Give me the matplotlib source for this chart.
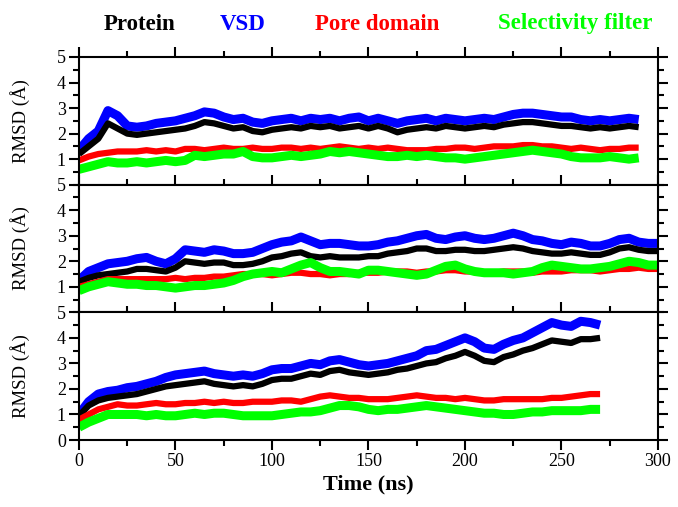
import numpy as np
import matplotlib
matplotlib.use('Agg')
from matplotlib import pyplot as plt
from matplotlib.ticker import MultipleLocator

# -------DATA (RMSD in Angstrom, sampled every 5 ns)
t_top = np.arange(0, 295, 5)
t_mid = np.arange(0, 305, 5)
t_bot = np.arange(0, 275, 5)

protein_top = [1.2, 1.5, 1.8, 2.4, 2.2, 2.0, 1.95, 2.0, 2.05, 2.1, 2.15, 2.2, 2.3, 2.45, 2.4, 2.3, 2.2, 2.25, 2.1, 2.05,
               2.15, 2.2, 2.25, 2.2, 2.3, 2.25, 2.3, 2.2, 2.25, 2.3, 2.2, 2.3, 2.2, 2.05, 2.15, 2.2, 2.25, 2.2, 2.3, 2.25,
               2.2, 2.25, 2.3, 2.25, 2.35, 2.4, 2.45, 2.45, 2.4, 2.35, 2.3, 2.3, 2.25, 2.2, 2.25, 2.2, 2.25, 2.3, 2.25]
vsd_top = [1.35, 1.8, 2.1, 2.9, 2.7, 2.3, 2.25, 2.3, 2.4, 2.45, 2.5, 2.6, 2.7, 2.85, 2.8, 2.65, 2.55, 2.6, 2.45, 2.4,
           2.5, 2.55, 2.6, 2.5, 2.6, 2.55, 2.6, 2.5, 2.6, 2.65, 2.5, 2.6, 2.5, 2.4, 2.5, 2.55, 2.6, 2.5, 2.6, 2.55,
           2.5, 2.55, 2.6, 2.55, 2.65, 2.75, 2.8, 2.8, 2.75, 2.7, 2.65, 2.65, 2.55, 2.5, 2.55, 2.5, 2.55, 2.6, 2.55]
pore_top = [0.95, 1.1, 1.2, 1.25, 1.3, 1.3, 1.3, 1.35, 1.3, 1.35, 1.3, 1.4, 1.4, 1.35, 1.4, 1.45, 1.4, 1.4, 1.45, 1.4,
            1.4, 1.45, 1.45, 1.4, 1.45, 1.4, 1.45, 1.5, 1.45, 1.4, 1.45, 1.4, 1.45, 1.4, 1.35, 1.35, 1.35, 1.4, 1.4, 1.45,
            1.45, 1.4, 1.45, 1.5, 1.5, 1.5, 1.55, 1.55, 1.5, 1.5, 1.45, 1.4, 1.45, 1.4, 1.35, 1.4, 1.4, 1.45, 1.45]
sf_top = [0.6, 0.7, 0.8, 0.9, 0.85, 0.85, 0.9, 0.85, 0.9, 0.95, 0.9, 0.95, 1.15, 1.1, 1.15, 1.2, 1.2, 1.3, 1.1, 1.05,
          1.05, 1.1, 1.15, 1.1, 1.15, 1.2, 1.3, 1.25, 1.3, 1.25, 1.2, 1.15, 1.1, 1.1, 1.15, 1.1, 1.15, 1.1, 1.05, 1.05,
          1.0, 1.05, 1.1, 1.15, 1.2, 1.25, 1.3, 1.35, 1.3, 1.25, 1.2, 1.1, 1.05, 1.05, 1.05, 1.1, 1.05, 1.0, 1.05]

protein_mid = [1.2, 1.35, 1.45, 1.5, 1.55, 1.6, 1.7, 1.7, 1.65, 1.6, 1.75, 2.0, 1.95, 1.9, 1.95, 1.95, 1.85, 1.85, 1.9, 2.0,
               2.15, 2.2, 2.3, 2.35, 2.2, 2.15, 2.2, 2.15, 2.15, 2.15, 2.2, 2.2, 2.3, 2.35, 2.4, 2.5, 2.5, 2.4, 2.4, 2.45,
               2.45, 2.4, 2.4, 2.45, 2.5, 2.55, 2.5, 2.4, 2.35, 2.3, 2.3, 2.35, 2.3, 2.25, 2.25, 2.35, 2.5, 2.55, 2.45, 2.4, 2.4]
vsd_mid = [1.25, 1.6, 1.75, 1.9, 1.95, 2.0, 2.1, 2.15, 2.0, 1.9, 2.1, 2.45, 2.4, 2.35, 2.45, 2.4, 2.3, 2.3, 2.35, 2.5,
           2.65, 2.75, 2.8, 2.95, 2.8, 2.65, 2.7, 2.7, 2.65, 2.6, 2.6, 2.65, 2.75, 2.8, 2.9, 3.0, 3.05, 2.9, 2.85, 2.95,
           3.0, 2.9, 2.85, 2.9, 3.0, 3.1, 3.0, 2.85, 2.8, 2.7, 2.65, 2.75, 2.7, 2.6, 2.6, 2.7, 2.85, 2.9, 2.75, 2.7, 2.7]
pore_mid = [1.0, 1.1, 1.2, 1.3, 1.3, 1.3, 1.3, 1.3, 1.3, 1.3, 1.35, 1.3, 1.35, 1.35, 1.4, 1.4, 1.45, 1.5, 1.5, 1.5,
            1.45, 1.5, 1.55, 1.55, 1.5, 1.5, 1.45, 1.5, 1.5, 1.55, 1.55, 1.55, 1.6, 1.6, 1.6, 1.55, 1.6, 1.6, 1.65, 1.65,
            1.6, 1.6, 1.55, 1.55, 1.6, 1.6, 1.6, 1.55, 1.6, 1.6, 1.6, 1.65, 1.65, 1.65, 1.6, 1.65, 1.7, 1.7, 1.75, 1.7, 1.7]
sf_mid = [0.85, 1.0, 1.1, 1.2, 1.15, 1.1, 1.1, 1.05, 1.05, 1.0, 0.95, 1.0, 1.05, 1.05, 1.1, 1.15, 1.25, 1.4, 1.5, 1.55,
          1.6, 1.55, 1.7, 1.85, 1.95, 1.75, 1.6, 1.6, 1.55, 1.5, 1.65, 1.65, 1.6, 1.55, 1.5, 1.45, 1.5, 1.65, 1.8, 1.85,
          1.7, 1.6, 1.55, 1.55, 1.55, 1.5, 1.55, 1.6, 1.75, 1.85, 1.8, 1.75, 1.7, 1.7, 1.75, 1.8, 1.9, 2.0, 1.95, 1.85, 1.85]

protein_bot = [0.95, 1.35, 1.55, 1.65, 1.7, 1.75, 1.8, 1.9, 2.0, 2.1, 2.15, 2.2, 2.25, 2.3, 2.2, 2.15, 2.1, 2.15, 2.1, 2.2,
               2.35, 2.4, 2.4, 2.5, 2.6, 2.55, 2.7, 2.75, 2.65, 2.6, 2.55, 2.6, 2.65, 2.75, 2.8, 2.9, 3.0, 3.05, 3.2, 3.3,
               3.45, 3.3, 3.1, 3.05, 3.25, 3.35, 3.5, 3.6, 3.75, 3.9, 3.85, 3.8, 3.95, 3.95, 4.0]
vsd_bot = [1.0, 1.5, 1.8, 1.9, 1.95, 2.05, 2.1, 2.2, 2.3, 2.45, 2.55, 2.6, 2.65, 2.7, 2.6, 2.55, 2.5, 2.55, 2.5, 2.6,
           2.75, 2.8, 2.8, 2.9, 3.0, 2.95, 3.1, 3.15, 3.05, 2.95, 2.9, 2.95, 3.0, 3.1, 3.2, 3.3, 3.5, 3.55, 3.7, 3.85,
           4.0, 3.85, 3.6, 3.55, 3.75, 3.9, 4.0, 4.2, 4.4, 4.6, 4.5, 4.45, 4.65, 4.6, 4.5]
pore_bot = [0.8, 1.0, 1.2, 1.3, 1.4, 1.35, 1.35, 1.4, 1.45, 1.4, 1.4, 1.45, 1.45, 1.5, 1.45, 1.5, 1.45, 1.45, 1.5, 1.5,
            1.5, 1.55, 1.55, 1.5, 1.6, 1.7, 1.75, 1.7, 1.65, 1.65, 1.6, 1.6, 1.6, 1.65, 1.7, 1.75, 1.7, 1.65, 1.65, 1.6,
            1.65, 1.6, 1.55, 1.55, 1.6, 1.6, 1.6, 1.6, 1.6, 1.65, 1.65, 1.7, 1.75, 1.8, 1.8]
sf_bot = [0.5, 0.7, 0.85, 1.0, 1.0, 1.0, 1.0, 0.95, 1.0, 0.95, 0.95, 1.0, 1.05, 1.0, 1.05, 1.05, 1.0, 0.95, 0.95, 0.95,
          0.95, 1.0, 1.05, 1.1, 1.1, 1.15, 1.25, 1.35, 1.35, 1.3, 1.2, 1.15, 1.2, 1.2, 1.25, 1.3, 1.35, 1.3, 1.25, 1.2,
          1.15, 1.1, 1.05, 1.05, 1.0, 1.0, 1.05, 1.1, 1.1, 1.15, 1.15, 1.15, 1.15, 1.2, 1.2]

labels = ['Protein', 'VSD', 'Pore domain', 'Selectivity filter']
colors = ['black', '#0000ff', '#ff0000', '#00ff00']

panels = [
    (t_top, [protein_top, vsd_top, pore_top, sf_top]),
    (t_mid, [protein_mid, vsd_mid, pore_mid, sf_mid]),
    (t_bot, [protein_bot, vsd_bot, pore_bot, sf_bot]),
]

serif = ['Liberation Serif', 'DejaVu Serif']
plt.rcParams['font.family'] = serif

fig, axes = plt.subplots(3, 1, figsize=(6.78, 5.07), dpi=100, sharex=True)
fig.subplots_adjust(left=0.1165, right=0.9705, top=0.8876, bottom=0.1321, hspace=0)

# draw order: VSD, Protein, Pore, SF ; widths mimic the noisy band
order = [1, 0, 2, 3]
widths = {0: 4.5, 1: 6.5, 2: 4.5, 3: 6.5}

for i, (ax, (t, series)) in enumerate(zip(axes, panels)):
    for k in order:
        ax.plot(t, series[k], color=colors[k], lw=widths[k], solid_joinstyle='round', solid_capstyle='butt')
    ax.set_xlim(0, 300)
    ax.set_ylim(0, 5)
    ax.xaxis.set_major_locator(MultipleLocator(50))
    ax.xaxis.set_minor_locator(MultipleLocator(25))
    ax.yaxis.set_major_locator(MultipleLocator(1))
    ax.yaxis.set_minor_locator(MultipleLocator(0.5))
    ax.tick_params(which='both', direction='out', left=True, right=True, top=True, bottom=True, width=1.5)
    ax.tick_params(which='major', length=7.5, labelsize=13, pad=2)
    ax.tick_params(which='minor', length=4.5)
    for sp in ax.spines.values():
        sp.set_linewidth(1.5)
    ax.set_ylabel('RMSD (Å)', fontsize=13.5)
    ax.yaxis.set_label_coords(-0.085, 0.5)
    if i < 2:
        ax.set_yticks([1, 2, 3, 4, 5])

axes[2].set_xlabel('Time (ns)', fontsize=16, fontweight='bold', labelpad=3)

# colored title labels
label_x = [140, 243, 377, 575]
for lab, col, x in zip(labels, colors, label_x):
    fig.text(x / 678, 1 - 24 / 507, lab, color=col, fontsize=16.5, fontweight='bold', ha='center', va='center')

fig.savefig('out.png', dpi=100)
